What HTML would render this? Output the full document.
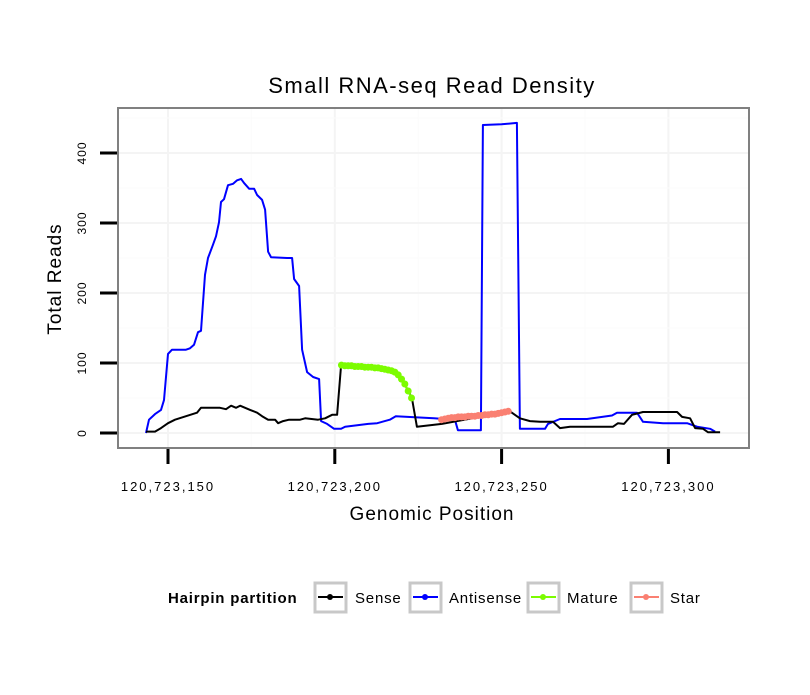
<!DOCTYPE html>
<html><head><meta charset="utf-8"><style>
body{margin:0;background:#fff;font-family:"Liberation Sans",sans-serif}
svg text{font-family:"Liberation Sans",sans-serif}
</style></head><body>
<svg id="chart" width="810" height="690" xmlns="http://www.w3.org/2000/svg">
<rect width="810" height="690" fill="#fff"/>
<text x="432" y="93" font-size="22" letter-spacing="1.5" text-anchor="middle">Small RNA-seq Read Density</text>
<g id="grid"></g>
<g id="series"></g>
<rect x="118" y="108" width="631" height="340" fill="none" stroke="#808080" stroke-width="2"/>
<g id="axes"></g>
<text x="432" y="520" font-size="19" letter-spacing="1" text-anchor="middle">Genomic Position</text>
<text transform="translate(61,279) rotate(-90)" font-size="19" letter-spacing="1" text-anchor="middle">Total Reads</text>
<g font-size="15" letter-spacing="0.8">
<text x="168" y="603" font-weight="bold">Hairpin partition</text>
<g><rect x="315" y="583" width="31" height="29" fill="#fff" stroke="#c8c8c8" stroke-width="3"/><line x1="318" y1="597" x2="343" y2="597" stroke="#000" stroke-width="2"/><circle cx="330" cy="597" r="3" fill="#000"/><text x="355" y="603">Sense</text></g>
<g><rect x="410" y="583" width="31" height="29" fill="#fff" stroke="#c8c8c8" stroke-width="3"/><line x1="413" y1="597" x2="438" y2="597" stroke="#0000ff" stroke-width="2"/><circle cx="425" cy="597" r="3" fill="#0000ff"/><text x="449" y="603">Antisense</text></g>
<g><rect x="528" y="583" width="31" height="29" fill="#fff" stroke="#c8c8c8" stroke-width="3"/><line x1="531" y1="597" x2="556" y2="597" stroke="#7cfc00" stroke-width="2"/><circle cx="543" cy="597" r="3" fill="#7cfc00"/><text x="567" y="603">Mature</text></g>
<g><rect x="631" y="583" width="31" height="29" fill="#fff" stroke="#c8c8c8" stroke-width="3"/><line x1="634" y1="597" x2="659" y2="597" stroke="#fa8072" stroke-width="2"/><circle cx="646" cy="597" r="3" fill="#fa8072"/><text x="670" y="603">Star</text></g>
</g>
</svg>
<script>
const xTicks=[150,200,250,300];
const xTickLabels=["120,723,150","120,723,200","120,723,250","120,723,300"];
const yTicks=[0,100,200,300,400];
const antisensePos=[143.4,144.3,146.1,147.9,148.8,150,151.2,155.4,156.6,157.8,159,159.9,161.1,162,163.5,164.4,165.3,165.9,166.8,168,169.5,170.7,171.9,172.8,174.3,175.8,176.7,178.2,179.1,180,180.9,185.7,187.2,187.8,189.3,190.2,191.7,193.5,195.3,195.9,197.7,199.8,201.9,203.1,206.7,210,212.7,216.5,218.3,229.7,236,236.9,243.8,244.4,250,254.6,255.5,263,263.9,267.5,275.6,283.1,284.6,290.6,292.4,298.4,305.6,308.6,312.5,314];
const antisenseVal=[0,19,27,33,47,113,119,119,121,126,144,146,226,250,269,281,301,330,334,354,356,361,363,357,349,349,340,333,319,259,251,250,250,220,210,119,87,80,77,17,13,6,6,9,11,13,14,19,24,21,19,4,4,440,441,443,6,6,13,20,20,25,29,29,16,14,14,9,6,2];
const sensePos=[143.4,146.1,147.9,150,152.1,155.4,158.7,159.9,165.6,167.4,168.9,170.4,171.6,173.1,174.6,176.7,178.2,180,182.1,183,184.5,186.3,189.6,191.1,195,197.1,199.2,200.7,201.9,210.6,216.5,219.5,221.6,223.1,224.6,232.1,252.5,255.5,258.5,261.5,265.4,267.5,270.5,275.6,283.4,284.9,286.7,289.1,292.4,302.6,304.1,306.5,308,310.4,311.9,315.5];
const senseVal=[2,2,7,14,19,24,29,36,36,34,39,36,39,36,33,29,24,19,19,14,17,19,19,21,19,21,26,26,97,94,90,79,64,50,9,13,31,21,17,16,16,7,9,9,9,14,13,26,30,30,23,21,7,6,1,1];
const maturePos=[202,203,204,205,206,207,208,209,210,211,212,213,214,215,216,217,218,219,220,221,222,223];
const matureVal=[97,96,96,96,95,95,95,94,94,94,93,93,92,91,90,89,87,83,77,70,60,50];
const starPos=[232,233,234,235,236,237,238,239,240,241,242,243,244,245,246,247,248,249,250,251,252];
const starVal=[19,20,21,22,22,23,23,23,24,24,24,25,25,26,26,27,27,28,29,30,31];

const NS="http://www.w3.org/2000/svg";
const X=p=>168+(p-150)*3.336;
const Y=v=>433-v*0.7;
function mk(tag,attrs,parent){const e=document.createElementNS(NS,tag);for(const k in attrs)e.setAttribute(k,attrs[k]);parent.appendChild(e);return e;}
const grid=document.getElementById('grid'),axes=document.getElementById('axes'),ser=document.getElementById('series');
mk('rect',{x:118,y:108,width:631,height:340,fill:'#fff'},grid);
for(let i=0;i<xTicks.length;i++){
  const x=X(xTicks[i]);
  const g=mk('line',{x1:x,x2:x,y1:108,y2:448,stroke:'#f4f4f4','stroke-width':2},grid);
  
  
  if(i<xTicks.length-1){const xm=X((xTicks[i]+xTicks[i+1])/2);mk('line',{x1:xm,x2:xm,y1:108,y2:448,stroke:'#fbfbfb','stroke-width':1},grid);}
  const t=mk('line',{x1:x,x2:x,y1:449,y2:464,stroke:'#000','stroke-width':3},axes);
  
  
  const l=mk('text',{x:x,y:491,'font-size':13,'letter-spacing':2,'text-anchor':'middle'},axes);l.textContent=xTickLabels[i];
  
  
}
for(let i=0;i<yTicks.length;i++){
  const y=Y(yTicks[i]);
  const g=mk('line',{x1:118,x2:749,y1:y,y2:y,stroke:'#f4f4f4','stroke-width':2},grid);
  
  
  const ym=Y(yTicks[i]+50);mk('line',{x1:118,x2:749,y1:ym,y2:ym,stroke:'#fbfbfb','stroke-width':1},grid);
  const t=mk('line',{x1:100,x2:117,y1:y,y2:y,stroke:'#000','stroke-width':3},axes);
  
  
  const l=mk('text',{transform:`translate(86,${y}) rotate(-90)`,'font-size':12,'letter-spacing':1,'text-anchor':'middle'},axes);l.textContent=yTicks[i];
  
  
}
function line(pos,val,color,name,w){
  const d=pos.map((p,i)=>(i?'L':'M')+X(p).toFixed(1)+','+Y(val[i]).toFixed(1)).join(' ');
  const e=mk('path',{d:d,fill:'none',stroke:color,'stroke-width':w,'stroke-linejoin':'round'},ser);
  
  
}
function pts(pos,val,color,name){
  line(pos,val,color,name+'-line',2);
  pos.forEach((p,i)=>{const c=mk('circle',{cx:X(p),cy:Y(val[i]),r:3.5,fill:color},ser);
    
    });
}
line(antisensePos,antisenseVal,'#0000ff','antisense-line',2);
line(sensePos,senseVal,'#000','sense-line',2);
pts(maturePos,matureVal,'#7cfc00','mature');
pts(starPos,starVal,'#fa8072','star');
</script>
</body></html>
